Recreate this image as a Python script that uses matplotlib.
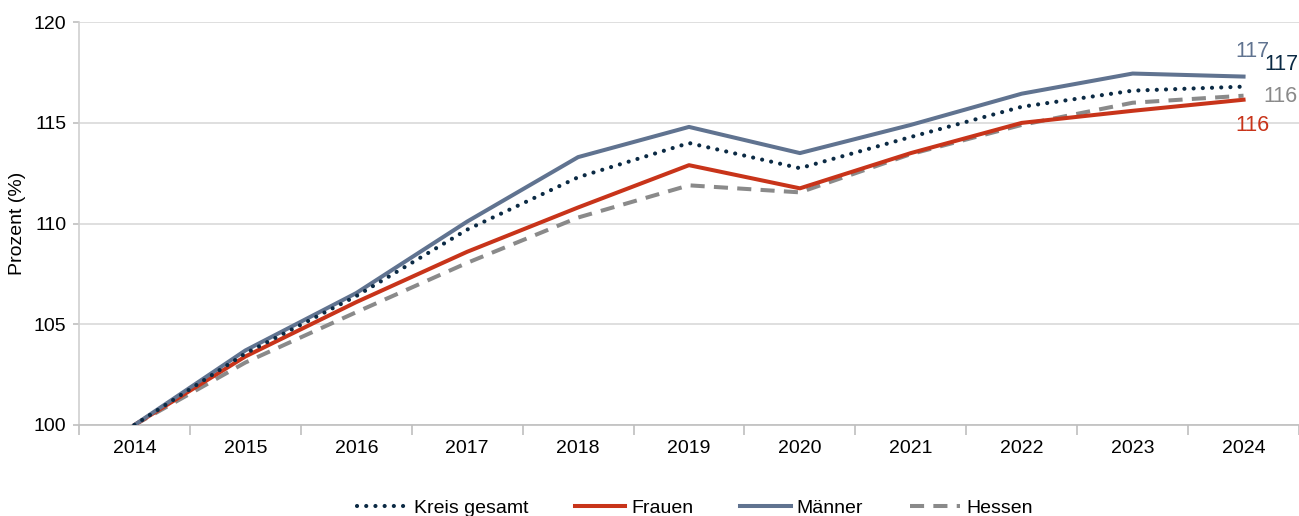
import matplotlib.pyplot as plt
from matplotlib.ticker import MultipleLocator, FixedLocator, NullFormatter

plt.rcParams['font.family'] = ['Liberation Sans', 'DejaVu Sans']

years = ['2014', '2015', '2016', '2017', '2018', '2019', '2020', '2021', '2022', '2023', '2024']
kreis = [100, 103.55, 106.4, 109.7, 112.3, 114.0, 112.75, 114.3, 115.8, 116.6, 116.8]
frauen = [100, 103.4, 106.1, 108.6, 110.8, 112.9, 111.75, 113.5, 115.0, 115.6, 116.15]
maenner = [100, 103.7, 106.55, 110.1, 113.3, 114.8, 113.5, 114.9, 116.45, 117.45, 117.3]
hessen = [100, 103.1, 105.6, 108.05, 110.3, 111.9, 111.55, 113.45, 114.9, 116.0, 116.35]

c_kreis = '#0b2a44'
c_frauen = '#c8341a'
c_maenner = '#607390'
c_hessen = '#8a8a8a'
fs = 14

fig = plt.figure(figsize=(12.99, 5.16), dpi=100)
ax = fig.add_axes([0.0608, 0.1764, 0.9392, 0.7806])

x = list(range(len(years)))
ax.plot(x, kreis, color=c_kreis, lw=3.0, linestyle=(0, (0.01, 2.2)), dash_capstyle='round',
        label='Kreis gesamt', zorder=4)
ax.plot(x, frauen, color=c_frauen, lw=2.9, label='Frauen', zorder=3)
ax.plot(x, maenner, color=c_maenner, lw=2.9, label='Männer', zorder=3)
ax.plot(x, hessen, color=c_hessen, lw=2.9, linestyle=(0, (3.5, 2.3)), label='Hessen', zorder=2)

# end labels (pixel offsets from the last point)
last = len(years) - 1
labels = [(maenner, c_maenner, (-8, 25)),
          (kreis, c_kreis, (21, 22)),
          (hessen, c_hessen, (20, -1)),
          (frauen, c_frauen, (-8, -26))]
for series, col, off in labels:
    ax.annotate(f'{series[-1]:.0f}', (last, series[-1]), xytext=off, textcoords='offset pixels',
                color=col, fontsize=15.5, ha='left', va='center', annotation_clip=False)

ax.set_xlim(-0.5, len(years) - 0.5)
ax.set_ylim(100, 120)
ax.yaxis.set_major_locator(MultipleLocator(5))
ax.grid(axis='y', color='#d9d9d9', lw=1.2)
ax.set_axisbelow(True)

ax.set_xticks(x)
ax.set_xticklabels(years)
ax.xaxis.set_minor_locator(FixedLocator([i - 0.5 for i in range(len(years) + 1)]))
ax.xaxis.set_minor_formatter(NullFormatter())
ax.tick_params(axis='x', which='major', length=0, pad=11, labelsize=fs)
ax.tick_params(axis='x', which='minor', length=7, color='#bfbfbf', width=1.2)
ax.tick_params(axis='y', length=4, color='#bfbfbf', width=1.2, labelsize=fs, pad=5)

for s in ['top', 'right']:
    ax.spines[s].set_visible(False)
ax.spines['left'].set_color('#d0d0d0')
ax.spines['bottom'].set_color('#bfbfbf')
ax.spines['left'].set_linewidth(1.2)
ax.spines['bottom'].set_linewidth(1.2)

ax.set_ylabel('Prozent (%)', fontsize=fs, labelpad=6)

fig.legend(loc='lower center', bbox_to_anchor=(0.535, -0.035), ncol=4, frameon=False,
           fontsize=fs, handlelength=2.6, columnspacing=2.4, handletextpad=0.3)

fig.savefig('out.png', dpi=100)
